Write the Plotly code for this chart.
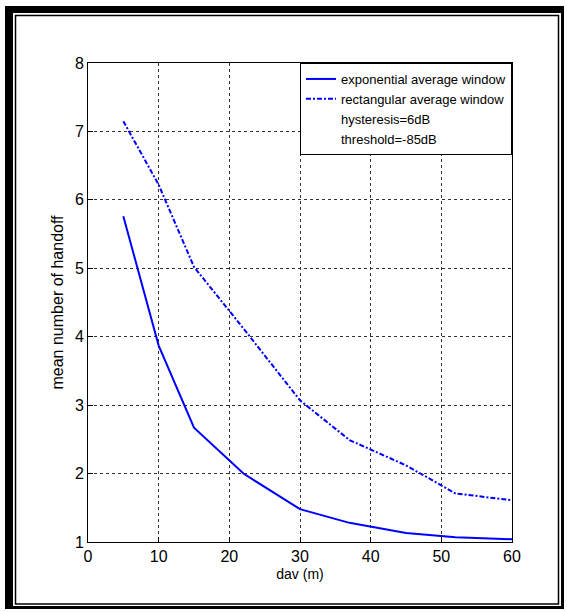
import plotly.graph_objects as go

# data
dav = [5, 10, 15, 22, 30, 37, 45, 52, 60]
exp_window = [5.76, 3.87, 2.67, 2.0, 1.48, 1.28, 1.13, 1.07, 1.04]
rect_window = [7.15, 6.22, 5.02, 4.12, 3.07, 2.49, 2.12, 1.71, 1.61]
x_ticks = [0, 10, 20, 30, 40, 50, 60]
y_ticks = [1, 2, 3, 4, 5, 6, 7, 8]
legend_notes = ["hysteresis=6dB", "threshold=-85dB"]

W, H = 567, 612
ML, MR, MT, MB = 88, 55, 63, 70
PW, PH = W - ML - MR, H - MT - MB

def px(x):
    return (x - ML) / PW

def py(y):
    return (H - MB - y) / PH

FONT = "Liberation Sans, Arial, sans-serif"
BLUE = "#0000FF"

fig = go.Figure()
fig.add_trace(go.Scatter(x=dav, y=exp_window, mode="lines", name="exponential average window",
                         line=dict(color=BLUE, width=2)))
fig.add_trace(go.Scatter(x=dav, y=rect_window, mode="lines", name="rectangular average window",
                         line=dict(color=BLUE, width=2, dash="5px,2px,2px,2px")))
for note in legend_notes:
    fig.add_trace(go.Scatter(x=[None], y=[None], mode="lines", name=note,
                             line=dict(color="rgba(0,0,0,0)", width=0)))

axis_common = dict(
    showline=True, linecolor="black", linewidth=1, mirror=True,
    ticks="inside", ticklen=5, tickcolor="black",
    showgrid=True, gridcolor="#333333", gridwidth=1, griddash="3px,3px",
    zeroline=False, tickfont=dict(family=FONT, size=16, color="black"),
)

fig.update_layout(
    width=W, height=H,
    margin=dict(l=ML, r=MR, t=MT, b=MB),
    paper_bgcolor="white", plot_bgcolor="white",
    font=dict(family=FONT, color="black"),
    xaxis=dict(range=[0, 60], tickvals=x_ticks, **axis_common,
               title=dict(text="dav (m)", font=dict(family=FONT, size=14), standoff=4)),
    yaxis=dict(range=[1, 8], tickvals=y_ticks, **axis_common,
               title=dict(text="mean number of handoff", font=dict(family=FONT, size=16), standoff=7)),
    legend=dict(x=1, xanchor="right", y=1, yanchor="top",
                bgcolor="white", bordercolor="black", borderwidth=1,
                font=dict(family=FONT, size=13, color="black"),
                itemwidth=30, tracegroupgap=0),
    showlegend=True,
)

shapes = []
def bar(x0, y0, x1, y1):
    shapes.append(dict(type="rect", xref="paper", yref="paper",
                       x0=px(x0), x1=px(x1), y0=py(y0), y1=py(y1),
                       fillcolor="black", line=dict(width=0), layer="above"))

# thick outer frame
bar(5, 6, 13, 609)      # left
bar(5, 6, 564, 13)      # top
bar(561, 6, 564, 609)   # right
bar(5, 606, 564, 609)   # bottom
# thin inner frame
shapes.append(dict(type="rect", xref="paper", yref="paper",
                   x0=px(15.5), x1=px(558.5), y0=py(15.5), y1=py(604),
                   fillcolor="rgba(0,0,0,0)", line=dict(color="black", width=1.5)))
fig.update_layout(shapes=shapes)

fig.write_html("out.html")
